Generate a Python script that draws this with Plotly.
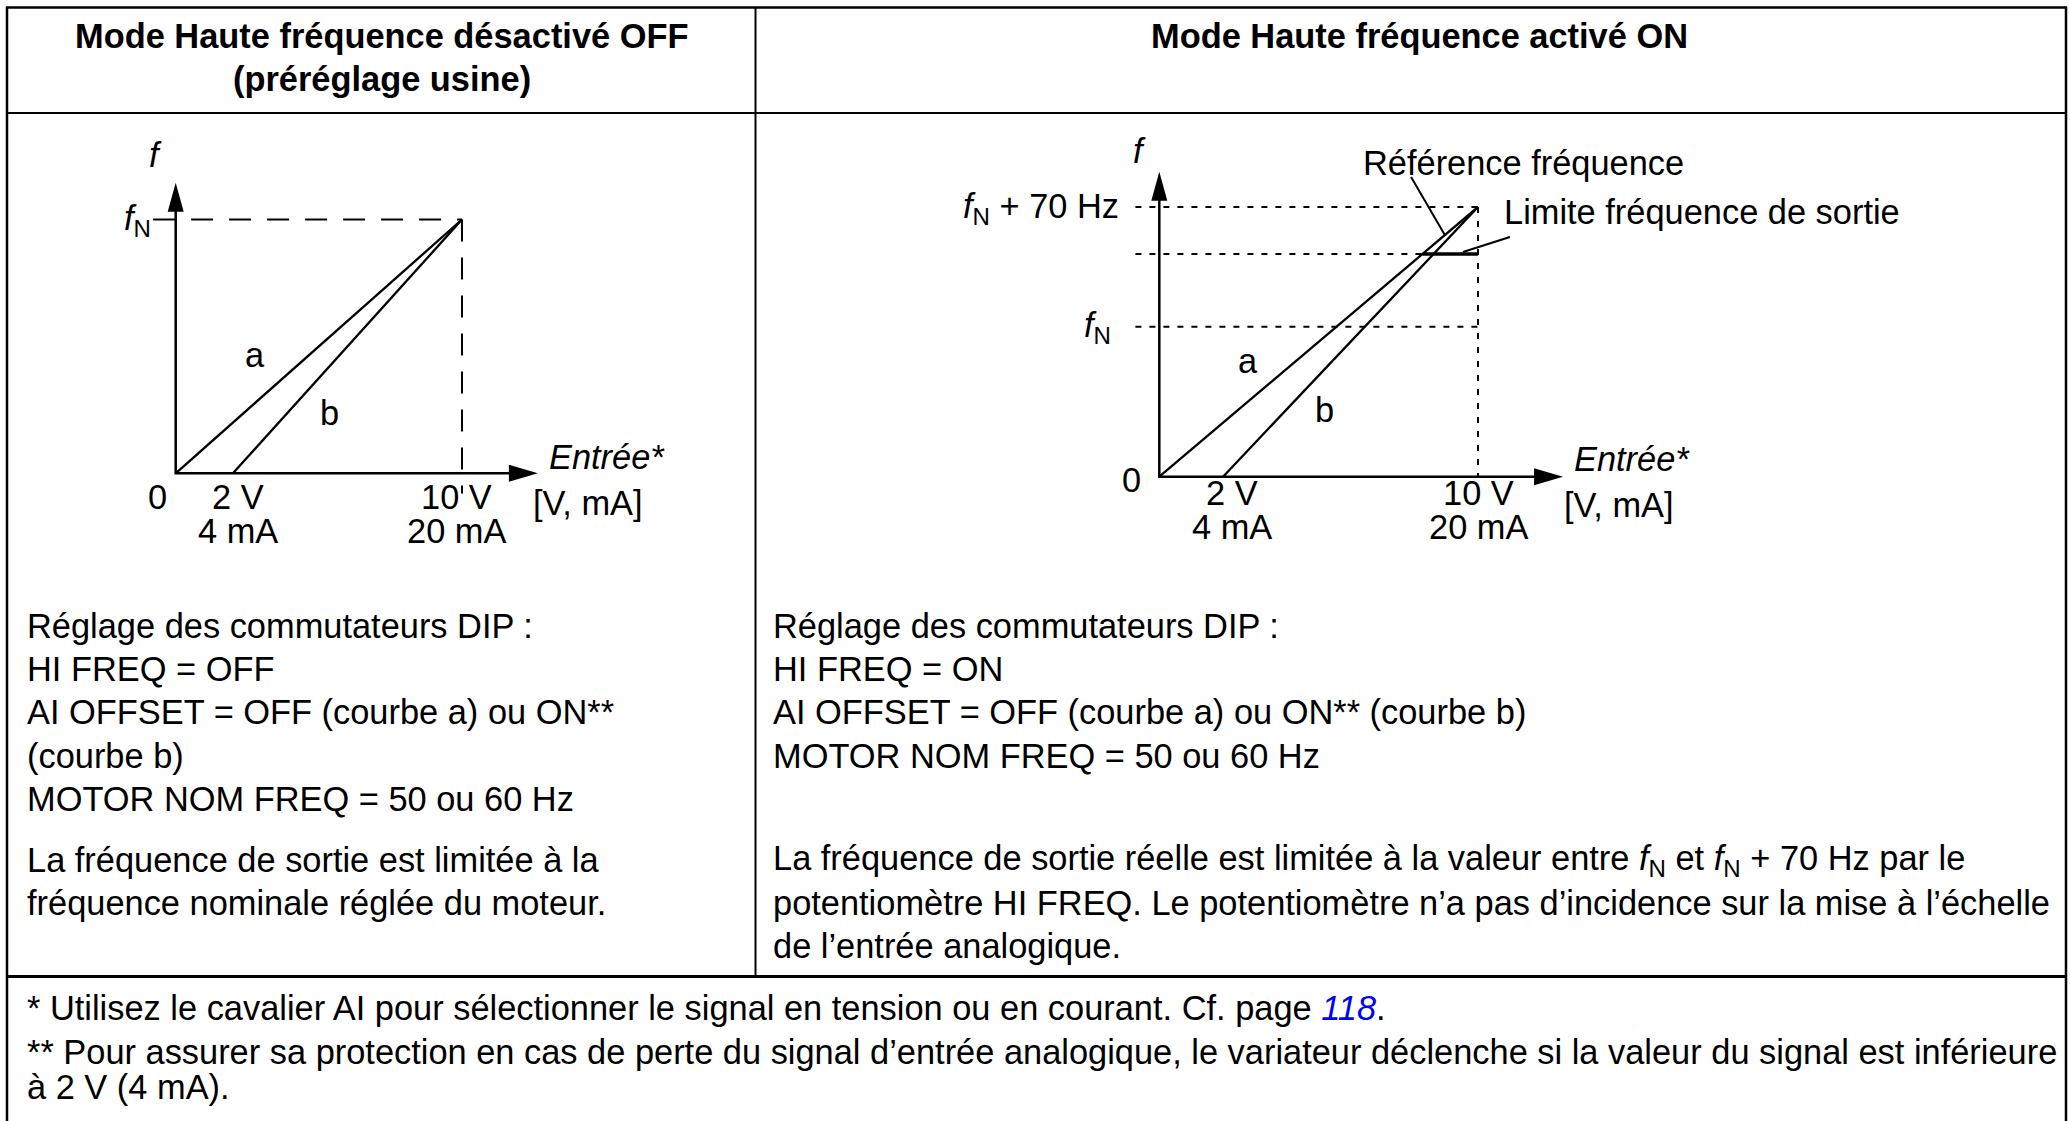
import plotly.graph_objects as go

W, H = 2070, 1121
FONT = "Arial, 'Liberation Sans', sans-serif"
FS = 34.4

entree = [0, 2, 10]                 # 0 V, décalage AI 2 V (4 mA), pleine échelle 10 V (20 mA)
ticks_v = ["2 V", "10 V"]
ticks_ma = ["4 mA", "20 mA"]

# mode OFF : la sortie monte jusqu'à fN
f_n_off = 1.0
# mode ON : fN, limite réglée par le potentiomètre HI FREQ, fN + 70 Hz
f_n_on = 0.556
f_lim_on = 0.826
f_max_on = 1.0

# bouts des axes (avant la flèche) et traits de rappel
axe_off = (12.65, 1.145)
axe_on = (12.67, 1.131)
rappel_ref_x = [7.9, 8.96]
rappel_ref_y = [1.111, 0.896]
rappel_lim_x = [11.0, 9.53]
rappel_lim_y = [0.889, 0.833]

# textes du tableau
titre_off = ["Mode Haute fréquence désactivé OFF", "(préréglage usine)"]
titre_on = ["Mode Haute fréquence activé ON"]
dip_off = ["Réglage des commutateurs DIP :", "HI FREQ = OFF",
           "AI OFFSET = OFF (courbe a) ou ON**", "(courbe b)",
           "MOTOR NOM FREQ = 50 ou 60 Hz"]
note_off = ["La fréquence de sortie est limitée à la",
            "fréquence nominale réglée du moteur."]
dip_on = ["Réglage des commutateurs DIP :", "HI FREQ = ON",
          "AI OFFSET = OFF (courbe a) ou ON** (courbe b)",
          "MOTOR NOM FREQ = 50 ou 60 Hz"]
note_on = ["La fréquence de sortie réelle est limitée à la valeur entre <i>f</i><sub>N</sub> et <i>f</i><sub>N</sub> + 70 Hz par le",
           "potentiomètre HI FREQ. Le potentiomètre n’a pas d’incidence sur la mise à l’échelle",
           "de l’entrée analogique."]
notes_bas = ["* Utilisez le cavalier AI pour sélectionner le signal en tension ou en courant. Cf. page <span style='color:#0000ff'><i>118</i></span>.",
             "** Pour assurer sa protection en cas de perte du signal d’entrée analogique, le variateur déclenche si la valeur du signal est inférieure",
             "à 2 V (4 mA)."]

fig = go.Figure()


def domaine(ox, sx, oy, sy, x0, x1, y0, y1):
    # boîte en pixels -> domaine papier + plage de données
    return (dict(domain=[x0 / W, x1 / W], range=[(x0 - ox) / sx, (x1 - ox) / sx]),
            dict(domain=[1 - y1 / H, 1 - y0 / H], range=[(oy - y1) / sy, (oy - y0) / sy]))


xa1, ya1 = domaine(175.7, 28.63, 473.3, 253.8, 40, 740, 130, 580)
xa2, ya2 = domaine(1159.3, 31.87, 476.7, 269.7, 770, 2060, 130, 580)


def trait(x, y, ax, width=2.3, dash=None):
    fig.add_trace(go.Scatter(x=x, y=y, mode="lines", xaxis=ax[0], yaxis=ax[1],
                             line=dict(color="black", width=width, dash=dash),
                             hoverinfo="skip", showlegend=False))


def fleches(ax, xend, yend):
    xr, yr = ("x", "y") if ax[0] == "x" else ("x2", "y2")
    fig.add_shape(type="path", xref=xr, yref=yr, xsizemode="pixel", ysizemode="pixel",
                  xanchor=0, yanchor=yend, path="M0,0 L-8,-29 L8,-29 Z",
                  fillcolor="black", line=dict(width=0))
    fig.add_shape(type="path", xref=xr, yref=yr, xsizemode="pixel", ysizemode="pixel",
                  xanchor=xend, yanchor=0, path="M0,0 L-29,8.5 L-29,-8.5 Z",
                  fillcolor="black", line=dict(width=0))


# diagramme gauche
g = ("x", "y")
xe, ye = axe_off
trait([0, 0, xe - 0.5], [ye - 0.06, 0, 0], g, width=2.5)
fleches(g, xe, ye)
trait([-0.79, entree[2]], [f_n_off, f_n_off], g, width=2, dash="22px,16px")
trait([entree[2], entree[2]], [f_n_off, -0.08], g, width=2, dash="22px,16px")
trait([entree[0], entree[2]], [0, f_n_off], g)
trait([entree[1], entree[2]], [0, f_n_off], g)

# diagramme droit
d = ("x2", "y2")
xe, ye = axe_on
trait([0, 0, xe - 0.5], [ye - 0.06, 0, 0], d, width=2.5)
fleches(d, xe, ye)
for lvl in [f_max_on, f_lim_on, f_n_on]:
    trait([-0.75, entree[2]], [lvl, lvl], d, width=2, dash="6px,8px")
trait([entree[2], entree[2]], [f_max_on, 0], d, width=2, dash="6px,8px")
trait([entree[0], entree[2]], [0, f_max_on], d)
trait([entree[1], entree[2]], [0, f_max_on], d)
trait([entree[2] * f_lim_on / f_max_on, entree[2]], [f_lim_on, f_lim_on], d, width=3.5)
trait(rappel_ref_x, rappel_ref_y, d, width=2)
trait(rappel_lim_x, rappel_lim_y, d, width=2)


def texte(t, x, y, xanchor="left", yanchor="middle", size=FS):
    fig.add_annotation(text=t, x=x / W, y=1 - y / H, xref="paper", yref="paper",
                       showarrow=False, xanchor=xanchor, yanchor=yanchor,
                       font=dict(size=size, color="black", family=FONT))


# en-têtes
texte("<b>%s</b>" % titre_off[0], 381.5, 36, "center")
texte("<b>%s</b>" % titre_off[1], 381.5, 79, "center")
texte("<b>%s</b>" % titre_on[0], 1419, 36, "center")

# étiquettes du diagramme gauche
texte("<i>f</i>", 155.5, 155, "center")
texte("<i>f</i><sub>N</sub>", 153, 220, "right")
texte("0", 157, 497, "center")
texte(ticks_v[0], 238, 497, "center")
texte(ticks_ma[0], 237.5, 531, "center")
texte(ticks_v[1], 456.6, 497, "center")
texte(ticks_ma[1], 456, 531, "center")
texte("<i>Entrée*</i>", 547, 457)
texte("[V, mA]", 531, 503)
texte("a", 255, 355, "center")
texte("b", 329.6, 413, "center")

# étiquettes du diagramme droit
texte("<i>f</i>", 1139, 151, "center")
texte("<i>f</i><sub>N</sub> + 70 Hz", 1121, 208, "right")
texte("<i>f</i><sub>N</sub>", 1113, 327, "right")
texte("0", 1131, 480, "center")
texte(ticks_v[0], 1232, 493, "center")
texte(ticks_ma[0], 1231.5, 527, "center")
texte(ticks_v[1], 1478.5, 493, "center")
texte(ticks_ma[1], 1478.5, 527, "center")
texte("<i>Entrée*</i>", 1572, 459)
texte("[V, mA]", 1562, 505)
texte("a", 1247.6, 361, "center")
texte("b", 1324, 410, "center")
texte("Référence fréquence", 1361, 163)
texte("Limite fréquence de sortie", 1502, 212)

# paragraphes
PAS = 43.2
for i, t in enumerate(dip_off):
    texte(t, 25, 626 + i * PAS)
for i, t in enumerate(note_off):
    texte(t, 25, 860 + i * PAS)
for i, t in enumerate(dip_on):
    texte(t, 771, 626 + i * PAS)
for i, t in enumerate(note_on):
    texte(t, 771, 860 + i * PAS)
for t, y in zip(notes_bas, [1008, 1052, 1087]):
    texte(t, 25, y)


def ligne(x0, y0, x1, y1, w=2.5):
    fig.add_shape(type="line", xref="paper", yref="paper",
                  x0=x0 / W, y0=1 - y0 / H, x1=x1 / W, y1=1 - y1 / H,
                  line=dict(color="black", width=w))


# cadre du tableau
ligne(6, 7.5, 2067, 7.5)
ligne(7, 7, 7, 1121)
ligne(2066, 7, 2066, 1121)
ligne(6, 113, 2067, 113, 2.2)
ligne(755.5, 7, 755.5, 976, 2)
ligne(6, 976.5, 2067, 976.5, 3.2)

fig.update_layout(
    width=W, height=H,
    margin=dict(l=0, r=0, t=0, b=0),
    paper_bgcolor="white", plot_bgcolor="rgba(0,0,0,0)",
    hovermode=False,
    xaxis=dict(visible=False, fixedrange=True, anchor="y", **xa1),
    yaxis=dict(visible=False, fixedrange=True, anchor="x", **ya1),
    xaxis2=dict(visible=False, fixedrange=True, anchor="y2", **xa2),
    yaxis2=dict(visible=False, fixedrange=True, anchor="x2", **ya2),
)

fig.write_html("out.html", config={"displayModeBar": False},
               post_script="document.body.style.margin='0';document.body.style.overflow='hidden';")
